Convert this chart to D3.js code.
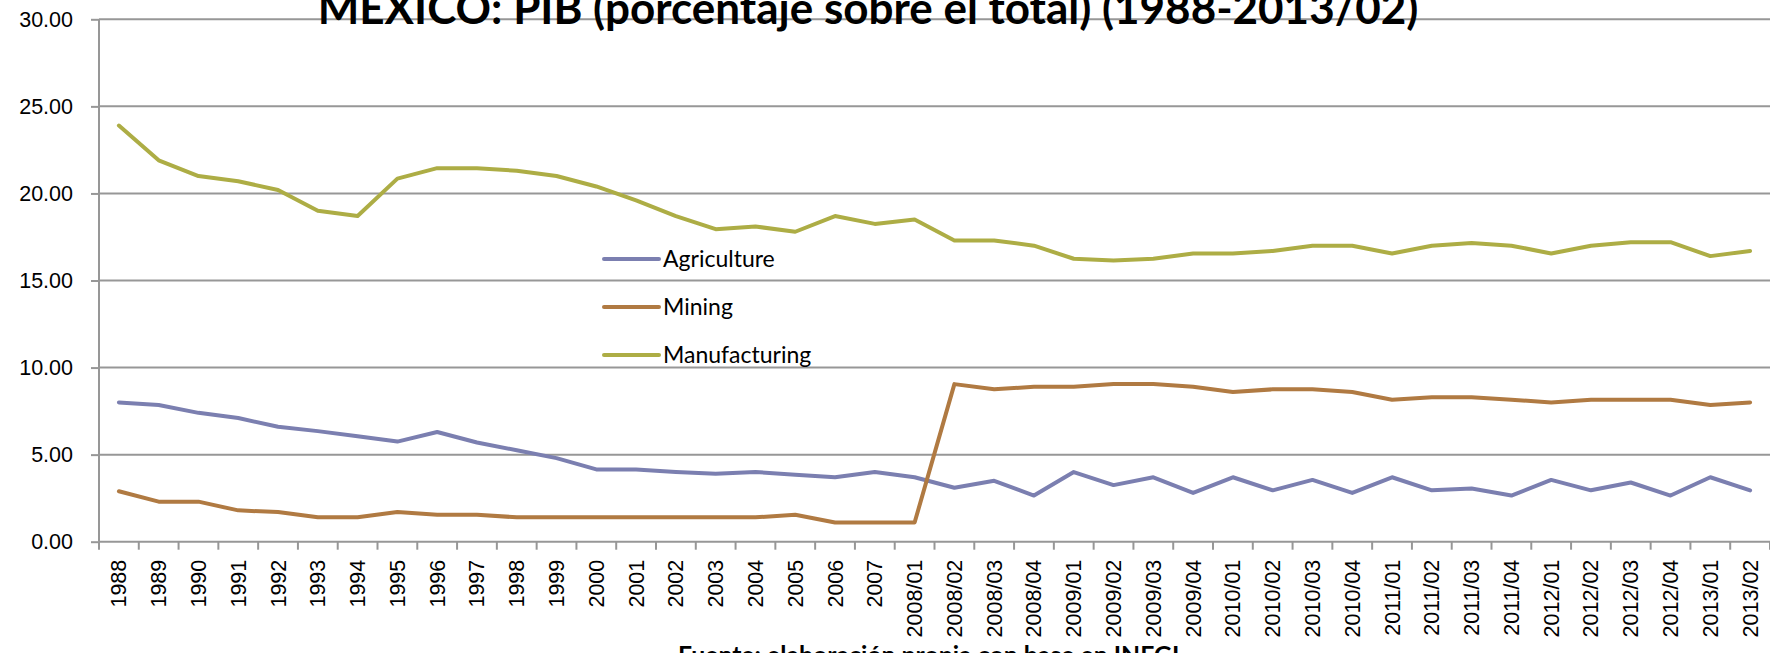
<!DOCTYPE html>
<meta charset="utf-8">
<style>
body { margin: 0; background: white; }
svg { display: block; font-family: Lato, "Open Sans", sans-serif; }
.grid line { stroke: #979797; stroke-width: 2px; }
.axis path, .axis line { stroke: #979797; stroke-width: 2px; }
.axis text { font-size: 21.5px; fill: #000; }
.legend text { font-size: 23px; fill: #000; }
</style>
<svg width="1770" height="653"></svg>
<script src="https://d3js.org/d3.v7.min.js"></script>
<script>

var periods = ["1988","1989","1990","1991","1992","1993","1994","1995","1996","1997",
  "1998","1999","2000","2001","2002","2003","2004","2005","2006","2007",
  "2008/01","2008/02","2008/03","2008/04","2009/01","2009/02","2009/03","2009/04",
  "2010/01","2010/02","2010/03","2010/04","2011/01","2011/02","2011/03","2011/04",
  "2012/01","2012/02","2012/03","2012/04","2013/01","2013/02"];

var agriculture = [8.0,7.85,7.4,7.1,6.6,6.35,6.05,5.75,6.3,5.7,
  5.25,4.8,4.15,4.15,4.0,3.9,4.0,3.85,3.7,4.0,
  3.7,3.1,3.5,2.65,4.0,3.25,3.7,2.8,
  3.7,2.95,3.55,2.8,3.7,2.95,3.05,2.65,
  3.55,2.95,3.4,2.65,3.7,2.95];

var mining = [2.9,2.3,2.3,1.8,1.7,1.4,1.4,1.7,1.55,1.55,
  1.4,1.4,1.4,1.4,1.4,1.4,1.4,1.55,1.1,1.1,
  1.1,9.05,8.75,8.9,8.9,9.05,9.05,8.9,
  8.6,8.75,8.75,8.6,8.15,8.3,8.3,8.15,
  8.0,8.15,8.15,8.15,7.85,8.0];

var manufacturing = [23.9,21.9,21.0,20.7,20.2,19.0,18.7,20.85,21.45,21.45,
  21.3,21.0,20.4,19.6,18.7,17.95,18.1,17.8,18.7,18.25,
  18.5,17.3,17.3,17.0,16.25,16.15,16.25,16.55,
  16.55,16.7,17.0,17.0,16.55,17.0,17.15,17.0,
  16.55,17.0,17.2,17.2,16.4,16.7];

var seriesNames = ["Agriculture", "Mining", "Manufacturing"];
var seriesColors = ["#7b7fb0", "#b07a42", "#adad45"];
var yTicks = [0, 5, 10, 15, 20, 25, 30];

var series = [agriculture, mining, manufacturing];

var svg = d3.select("svg"),
    width = +svg.attr("width"),
    height = +svg.attr("height");

var x = d3.scaleBand()
    .domain(periods)
    .range([99, 1770])
    .padding(0);

var y = d3.scaleLinear()
    .domain([0, 30])
    .range([541.7, 19.3]);

// gridlines
svg.append("g")
    .attr("class", "grid")
  .selectAll("line")
  .data(yTicks)
  .enter().append("line")
    .attr("x1", x.range()[0])
    .attr("x2", x.range()[1])
    .attr("y1", function(d) { return y(d); })
    .attr("y2", function(d) { return y(d); });

// footer goes under the x labels
svg.append("text")
    .attr("x", 678)
    .attr("y", 664)
    .style("font-size", "24.8px")
    .style("font-weight", "bold")
    .text("Fuente: elaboración propia con base en INEGI");

// y axis
var yAxis = svg.append("g")
    .attr("class", "axis")
    .attr("transform", "translate(" + x.range()[0] + ",0)")
    .call(d3.axisLeft(y).tickValues(yTicks).tickFormat(d3.format(".2f")).tickSize(8).tickPadding(18));
yAxis.select(".domain").remove();
yAxis.append("line")
    .attr("y1", y(30)).attr("y2", y(0));

// x axis: ticks at band edges, labels at band centers
var xAxis = svg.append("g")
    .attr("class", "axis")
    .attr("transform", "translate(0," + y(0) + ")")
    .call(d3.axisBottom(x).tickSize(0).tickPadding(0));
xAxis.select(".domain").remove();
xAxis.selectAll(".tick text")
    .attr("text-anchor", "end")
    .attr("transform", "rotate(-90)")
    .attr("x", -18)
    .attr("y", 0)
    .attr("dy", "0.35em");

var edges = periods.map(function(p) { return x(p); }).concat([x.range()[1]]);
xAxis.selectAll("line.edge")
  .data(edges)
  .enter().append("line")
    .attr("class", "edge")
    .attr("x1", function(d) { return d; })
    .attr("x2", function(d) { return d; })
    .attr("y1", 0)
    .attr("y2", 8);

// series lines
var line = d3.line()
    .x(function(d, i) { return x(periods[i]) + x.bandwidth() / 2; })
    .y(function(d) { return y(d); });

svg.append("g")
  .selectAll("path")
  .data(series)
  .enter().append("path")
    .attr("d", line)
    .attr("fill", "none")
    .attr("stroke", function(d, i) { return seriesColors[i]; })
    .attr("stroke-width", 4)
    .attr("stroke-linejoin", "round")
    .attr("stroke-linecap", "round");

// legend
var legend = svg.append("g")
    .attr("class", "legend")
    .attr("transform", "translate(604,259)")
  .selectAll("g")
  .data(seriesNames)
  .enter().append("g")
    .attr("transform", function(d, i) { return "translate(0," + i * 48 + ")"; });

legend.append("line")
    .attr("x1", 0).attr("x2", 55)
    .attr("stroke", function(d, i) { return seriesColors[i]; })
    .attr("stroke-width", 4)
    .attr("stroke-linecap", "round");

legend.append("text")
    .attr("x", 59)
    .attr("dy", "0.35em")
    .text(function(d) { return d; });

// title
svg.append("text")
    .attr("x", 868)
    .attr("y", 24)
    .attr("text-anchor", "middle")
    .style("font-size", "44px")
    .style("font-weight", "bold")
    .text("MEXICO: PIB (porcentaje sobre el total) (1988-2013/02)");

</script>
